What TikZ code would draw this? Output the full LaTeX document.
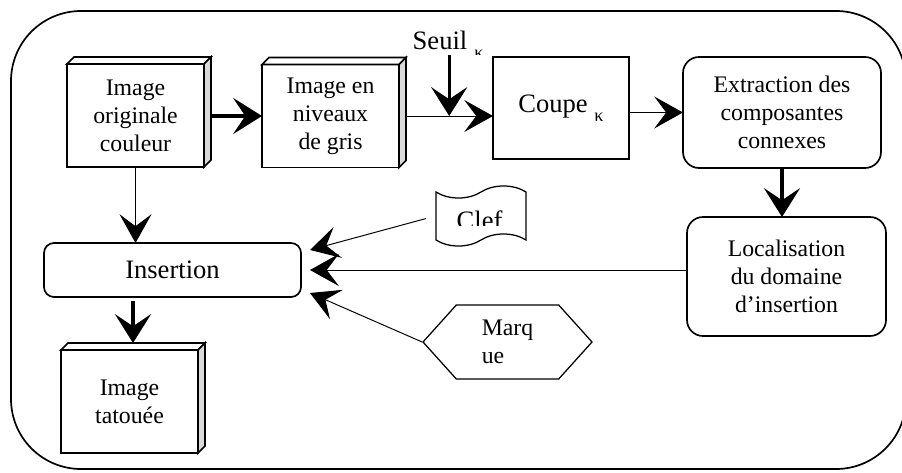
\documentclass[tikz,border=0pt]{standalone}
\usepackage{fontspec}
\setmainfont{Liberation Serif}
\usetikzlibrary{calc,positioning,arrows.meta,shapes.symbols}

\begin{document}
\begin{tikzpicture}[scale=1]

% \draw[step=0.5,gray,very thin] (0,0) grid (22.5,11.8);
\useasboundingbox (0,0) rectangle (22.55,11.8);

\tikzstyle{myfont} = [font=\fontsize{16.9}{20}\selectfont]
\tikzstyle{bigfont} = [font=\fontsize{18.9}{22}\selectfont]
\tikzstyle{imgbox} = [myfont, draw, line width=1.2pt, rectangle, align=center, minimum width=3.425cm, minimum height=2.575cm, outer sep=0pt]
\tikzstyle{roundbox} = [myfont, draw, line width=1.2pt, rectangle, rounded corners=0.4cm, align=center, outer sep=0pt]
\tikzstyle{myarrow} = [line width=0.7pt, -{Stealth[length=0.72cm,width=0.8cm,inset=0.3cm]}]
\tikzstyle{myfat} = [line width=2.4pt, -{Stealth[length=0.72cm,width=0.9cm,inset=0.3cm]}]

\draw [line width=1.2pt, rounded corners=1.75cm] (0.275,0.075) rectangle (22.65,11.525);

\node (orig) [imgbox] at (3.3875,8.9125) {Image\\originale\\couleur};
\node (gris) [imgbox] at (8.2625,8.9) {Image en\\niveaux\\de gris};
\node (tat) [imgbox] at (3.2375,1.7625) {Image\\tatouée};
\node (coupe) [imgbox, bigfont, minimum width=3.4cm, minimum height=2.55cm] at (14.025,9.1) {Coupe \raisebox{-0.35em}{\fontsize{13}{13}\selectfont κ}};

\node (extr) [roundbox, minimum width=4.95cm, minimum height=2.775cm] at (19.55,8.9875) {Extraction des\\composantes\\connexes};
\node (loc) [roundbox, minimum width=4.975cm, minimum height=2.975cm] at (19.6625,4.8875) {Localisation\\du domaine\\d’insertion};
\node (ins) [roundbox, bigfont, rounded corners=0.25cm, minimum width=6.425cm, minimum height=1.35cm] at (4.3125,5.05) {Insertion};

\node (clef) [tape, draw, line width=0.9pt, minimum width=2.25cm, minimum height=1.5cm, tape bend height=0.3cm] at (12.025,6.4) {};
\node (marque) [signal, signal to=west and east, signal pointer angle=96, draw, line width=0.9pt, minimum width=4.225cm, minimum height=1.85cm, myfont, align=left] at (12.6875,3.25) {Marq\\ue};

\node (seuil) [bigfont, anchor=base] at (11.0,10.55) {Seuil};

% 3D faces of the image boxes
\foreach \b in {orig,gris,tat} {
  \draw [line width=1.2pt, fill=white] (\b.north west) -- ++(0.175,0.175) -- ($(\b.north east)+(0.175,0.175)$) -- (\b.north east) -- cycle;
  \draw [line width=1.2pt, fill=gray!30] (\b.north east) -- ++(0.175,0.175) -- ($(\b.south east)+(0.175,0.175)$) -- (\b.south east) -- cycle;
}

% clipped texts
\begin{scope}
\clip (11.3,6.6) rectangle (12.7,6.175);
\node (cleftext) [bigfont, anchor=base] at (11.99,6.07) {Clef};
\end{scope}
\begin{scope}
\clip (11.7,10.8) rectangle (12.3,10.4375);
\node (seuilk) [anchor=north, inner sep=0pt, font=\fontsize{13}{13}\selectfont] at (11.975,10.55) {κ};
\end{scope}

\coordinate (seuilpt) at ($(gris.east)!0.5!(gris.east -| coupe.west)+(0.08,0)$);
\coordinate (insA) at ($(ins.north east)+(0.225,-0.175)$);
\coordinate (insB) at ($(ins.east)+(0.225,0)$);
\coordinate (insC) at ($(ins.south east)+(0.225,0.1)$);
\coordinate (tattop) at ($(tat.north)+(0.0875,0.175)$);

\draw [myfat, shorten <=0.175cm] (orig.east |- gris.west) -- (gris.west);
\draw [myarrow, shorten <=0.175cm] (gris.east) -- (gris.east -| coupe.west);
\draw [myfat] (seuilpt |- seuil.south) -- (seuilpt);
\draw [myarrow] (coupe.east |- extr.west) -- (extr.west);
\draw [myfat] (extr.south) -- (extr.south |- loc.north);
\draw [myarrow] (loc.west |- insB) -- (insB);
\draw [myarrow, shorten <=0.25cm] (clef.west) -- (insA);
\draw [myarrow] (marque.west) -- (insC);
\draw [myarrow] (orig.south) -- (orig.south |- ins.north);
\draw [myfat, shorten <=0.1cm] (ins.south -| tattop) -- (tattop);

\end{tikzpicture}
\end{document}
